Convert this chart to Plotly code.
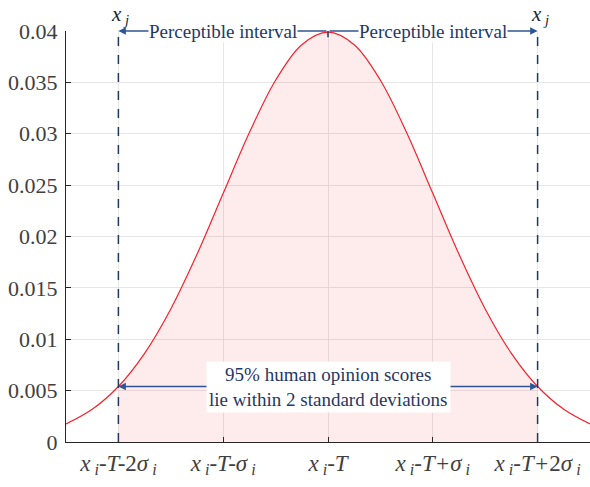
import plotly.graph_objects as go

# Data (curve samples)
x_vals = [-25, -22.5, -20, -17.5, -15, -12.5, -10, -7.5, -5, -2.5, 0,
          2.5, 5, 7.5, 10, 12.5, 15, 17.5, 20, 22.5, 25]
y_vals = [0.00175, 0.00318, 0.00540, 0.00863, 0.01295, 0.01827, 0.02420,
          0.03012, 0.03521, 0.03867, 0.03989, 0.03867, 0.03521, 0.03012,
          0.02420, 0.01827, 0.01295, 0.00863, 0.00540, 0.00318, 0.00175]
x_ticks = [-20, -10, 0, 10, 20]
SUB_I = "<sub><i> i</i></sub>"
x_tick_labels = [
    "<i>x</i>" + SUB_I + "<i>-T-</i>2<i>σ</i>" + SUB_I,
    "<i>x</i>" + SUB_I + "<i>-T-σ</i>" + SUB_I,
    "<i>x</i>" + SUB_I + "<i>-T</i>",
    "<i>x</i>" + SUB_I + "<i>-T+σ</i>" + SUB_I,
    "<i>x</i>" + SUB_I + "<i>-T+</i>2<i>σ</i>" + SUB_I,
]
y_ticks = [0, 0.005, 0.01, 0.015, 0.02, 0.025, 0.03, 0.035, 0.04]
y_tick_labels = ["0", "0.005", "0.01", "0.015", "0.02", "0.025", "0.03", "0.035", "0.04"]
bound_lo, bound_hi, center = -20, 20, 0
top_level = 0.04
band_level = 0.0054
interval_label = "Perceptible interval"
band_label = "95% human opinion scores<br>lie within 2 standard deviations"

FONT = "'Liberation Serif', 'Times New Roman', Times, serif"
NAVY = "#1f3864"
ARROW = "#2f5597"

fx = [x for x in x_vals if bound_lo <= x <= bound_hi]
fy = [y for x, y in zip(x_vals, y_vals) if bound_lo <= x <= bound_hi]

fig = go.Figure()
fig.add_trace(go.Scatter(x=fx, y=fy, mode="lines", line=dict(width=0, shape="spline"),
                         fill="tozeroy", fillcolor="rgba(240,0,0,0.08)", hoverinfo="skip"))
fig.add_trace(go.Scatter(x=x_vals, y=y_vals, mode="lines",
                         line=dict(color="#f5222d", width=1.2, shape="spline")))

for xb in (bound_lo, bound_hi):
    fig.add_shape(type="line", x0=xb, x1=xb, y0=0, y1=top_level,
                  line=dict(color=NAVY, width=1.5, dash="dash"))
    fig.add_annotation(x=xb, y=top_level, yshift=1, xshift=2, yanchor="bottom",
                       text="<i>x</i><sub><i> j</i></sub>", showarrow=False,
                       font=dict(family=FONT, size=21, color="#262626"))

fig.add_shape(type="line", x0=center, x1=center, y0=top_level - 0.0006, y1=top_level + 0.0004,
              line=dict(color=NAVY, width=1.5))

annos = []
for xb in (bound_lo, bound_hi):
    annos.append(dict(x=xb, y=top_level, ax=center, ay=top_level, xref="x", yref="y",
                      axref="x", ayref="y", text="", showarrow=True, arrowhead=2,
                      arrowsize=1, arrowwidth=1.5, arrowcolor=ARROW, standoff=0))
    annos.append(dict(x=xb, y=band_level, ax=center, ay=band_level, xref="x", yref="y",
                      axref="x", ayref="y", text="", showarrow=True, arrowhead=2,
                      arrowsize=1, arrowwidth=1.5, arrowcolor=ARROW, standoff=0))
for xb in (bound_lo, bound_hi):
    annos.append(dict(x=(xb + center) / 2, y=top_level, text=interval_label, showarrow=False,
                      bgcolor="white", borderpad=0,
                      font=dict(family=FONT, size=19, color=NAVY)))
annos.append(dict(x=center, y=band_level, text=band_label, showarrow=False,
                  bgcolor="white", borderpad=2,
                  font=dict(family=FONT, size=19, color=NAVY)))
for a in annos:
    fig.add_annotation(**a)

fig.update_xaxes(range=[-25, 25], tickvals=x_ticks, ticktext=x_tick_labels,
                 showgrid=True, gridcolor="#e6e6e6", gridwidth=1, zeroline=False,
                 showline=True, linecolor="#262626", linewidth=1,
                 ticks="inside", ticklen=5, tickcolor="#262626",
                 tickfont=dict(family=FONT, size=23, color="#404040"))
fig.update_yaxes(range=[0, top_level], tickvals=y_ticks, ticktext=y_tick_labels,
                 showgrid=True, gridcolor="#e6e6e6", gridwidth=1, zeroline=False,
                 showline=True, linecolor="#262626", linewidth=1,
                 ticks="inside", ticklen=5, tickcolor="#262626", ticklabelstandoff=3,
                 tickfont=dict(family=FONT, size=22, color="#404040"))
fig.update_layout(width=590, height=487, showlegend=False,
                  plot_bgcolor="white", paper_bgcolor="white",
                  font=dict(family=FONT),
                  margin=dict(l=66, r=0, t=31, b=45))
fig.write_html("out.html")
